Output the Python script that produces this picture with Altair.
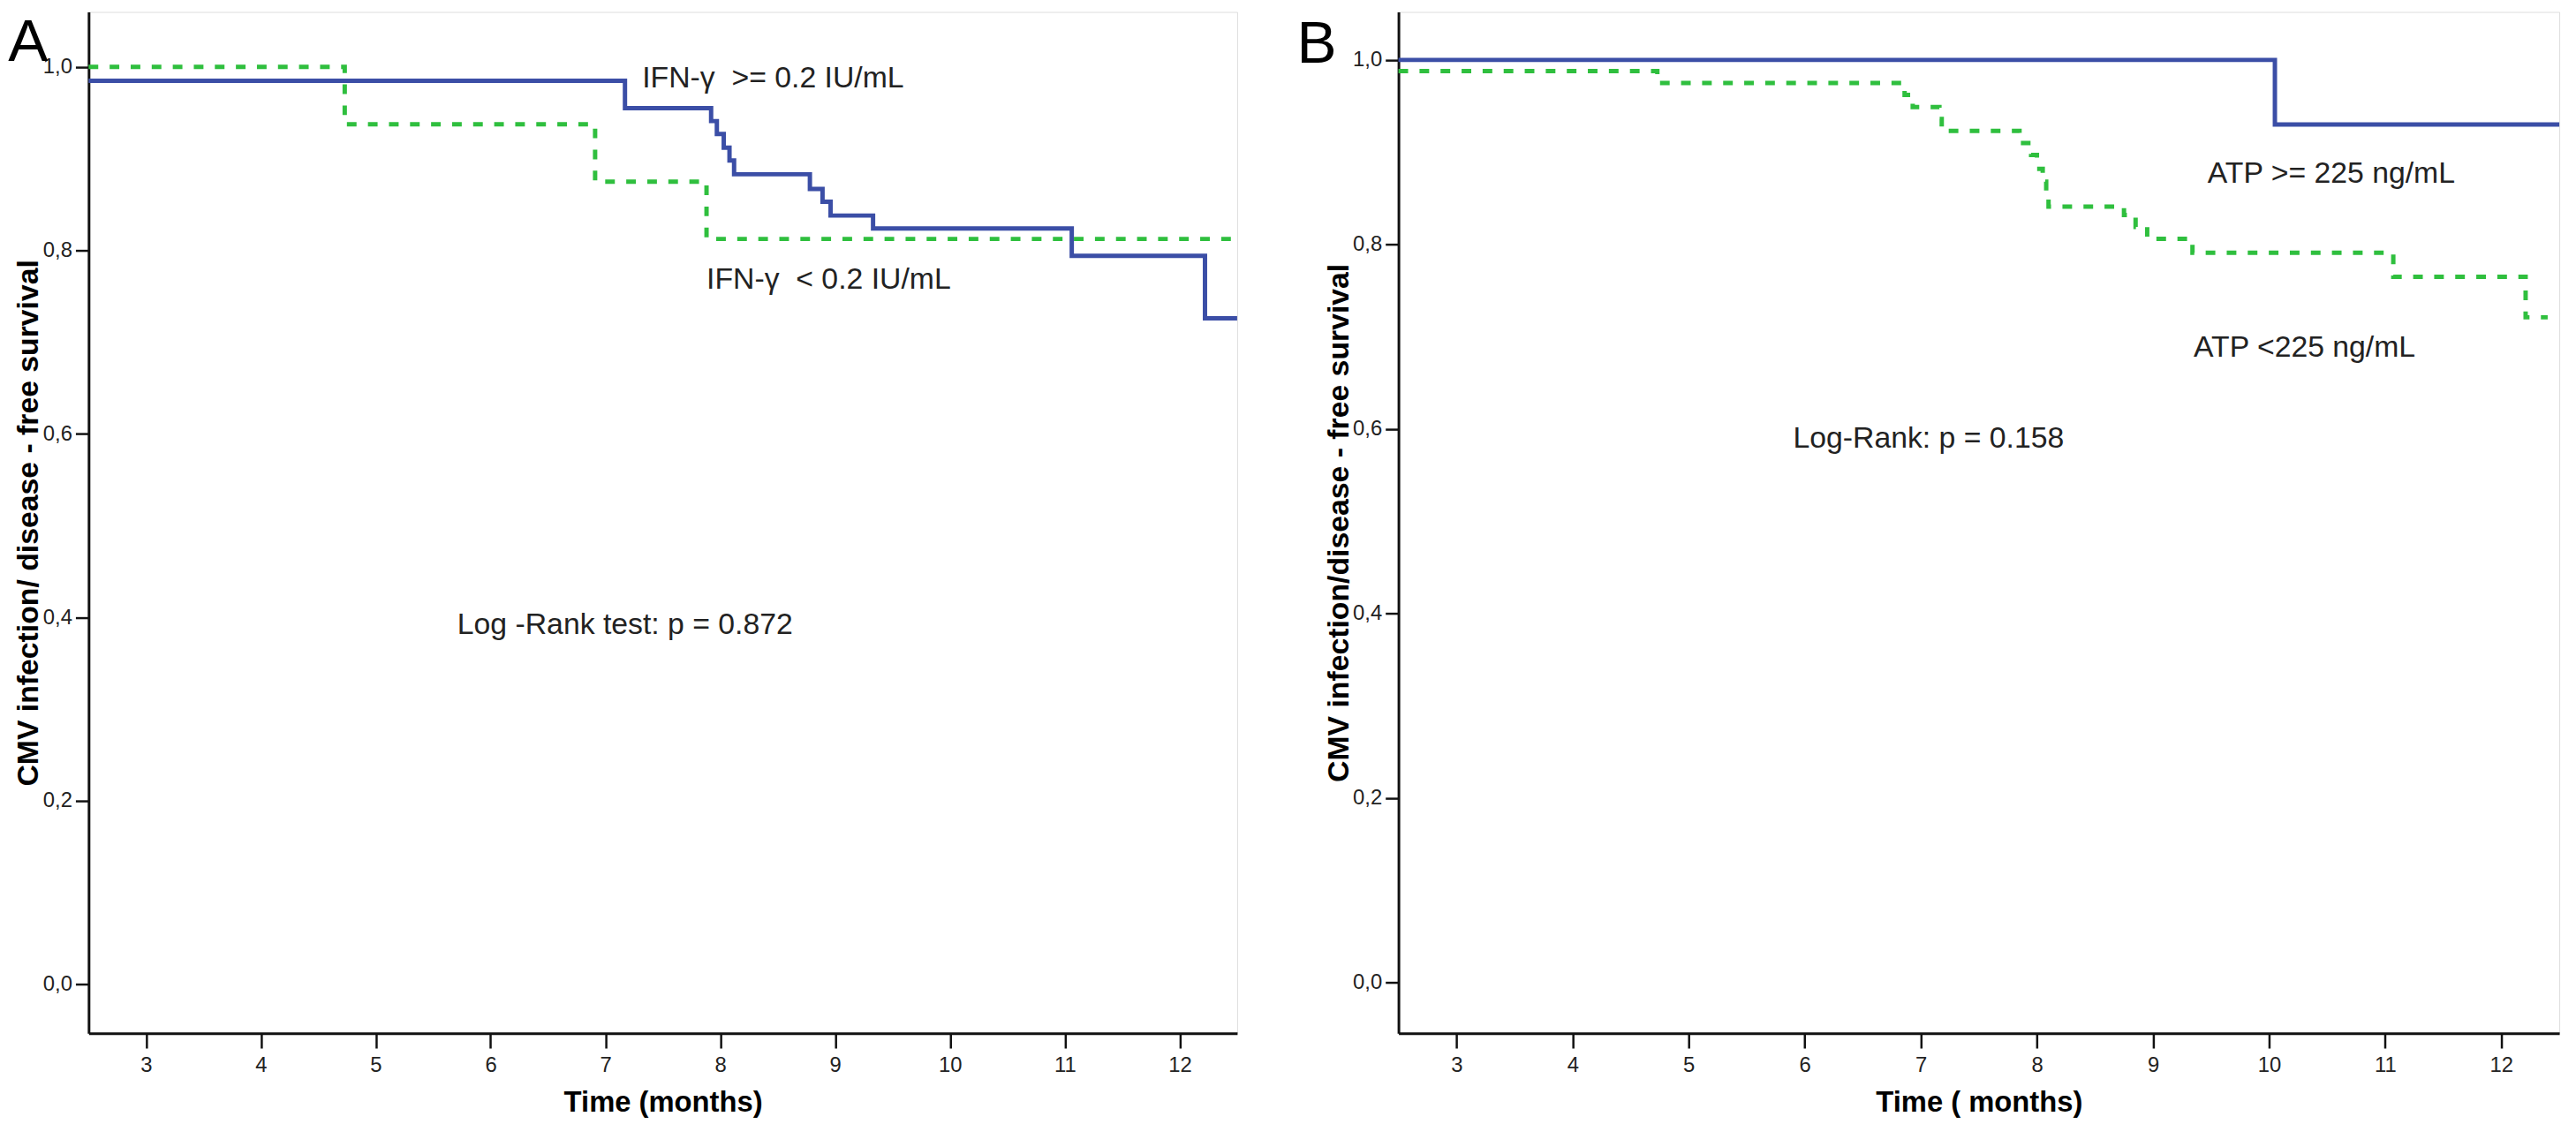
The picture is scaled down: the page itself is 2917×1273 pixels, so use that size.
import altair as alt
import pandas as pd

# ---------------- data ----------------
# Panel A : IFN-gamma
a_high_t = [2.5, 7.17, 7.92, 7.97, 8.03, 8.08, 8.12, 8.78, 8.89, 8.96, 9.33, 11.06, 12.22, 12.5]
a_high_s = [0.985, 0.955, 0.941, 0.927, 0.912, 0.898, 0.883, 0.867, 0.853, 0.838, 0.824, 0.794, 0.726, 0.726]
a_low_t = [2.5, 4.73, 6.91, 7.88, 12.5]
a_low_s = [1.0, 0.9375, 0.875, 0.8125, 0.8125]

# Panel B : ATP
b_high_t = [2.5, 10.05, 12.5]
b_high_s = [1.0, 0.930, 0.930]
b_low_t = [2.5, 4.73, 6.86, 6.93, 7.16, 7.18, 7.85, 7.95, 8.00, 8.05, 8.08, 8.10,
           8.75, 8.85, 8.95, 9.34, 11.07, 12.21, 12.40]
b_low_s = [0.988, 0.975, 0.962, 0.949, 0.936, 0.923, 0.910, 0.897, 0.882, 0.868, 0.854, 0.841,
           0.832, 0.819, 0.806, 0.791, 0.765, 0.721, 0.721]

x_ticks = [3, 4, 5, 6, 7, 8, 9, 10, 11, 12]
y_ticks = [0.0, 0.2, 0.4, 0.6, 0.8, 1.0]

# annotation texts and their anchor (month, survival)
a_ann_text = ["IFN-\u03b3\u00a0 >= 0.2 IU/mL", "IFN-\u03b3\u00a0 < 0.2 IU/mL", "Log -Rank test: p = 0.872"]
a_ann_t = [7.32, 7.88, 5.71]
a_ann_s = [0.978, 0.758, 0.382]

b_ann_text = ["ATP >= 225 ng/mL", "ATP <225 ng/mL", "Log-Rank: p = 0.158"]
b_ann_t = [9.47, 9.35, 5.90]
b_ann_s = [0.867, 0.678, 0.58]

# panel letters and their anchor (month, survival)
a_letter = ["A"]
a_letter_t = [1.80]
a_letter_s = [1.0067]
b_letter = ["B"]
b_letter_t = [1.624]
b_letter_s = [0.997]

# ---------------- styling ----------------
FONT = "Liberation Sans"
BLUE = "#3b4ea6"
GREEN = "#2fbf3e"
PLOT_H = 1165


def panel(hi_t, hi_s, lo_t, lo_s, ann_text, ann_t, ann_s, let, let_t, let_s,
          ydom, width, xtitle, ytitle):
    x_enc = alt.X(
        "t:Q",
        scale=alt.Scale(domain=[2.5, 12.5], nice=False, zero=False),
        axis=alt.Axis(
            values=x_ticks, grid=False, tickSize=17, tickWidth=2.5, tickColor="#111",
            labelFont=FONT, labelFontSize=24, labelColor="#222", labelPadding=8,
            domainColor="#111", domainWidth=3,
            title=xtitle, titleFont=FONT, titleFontSize=33, titleFontWeight="bold",
            titleColor="#000", titleY=89, titleBaseline="alphabetic",
        ),
    )
    y_enc = alt.Y(
        "s:Q",
        scale=alt.Scale(domain=ydom, nice=False, zero=False),
        axis=alt.Axis(
            values=y_ticks, grid=False, tickSize=15, tickWidth=2.5, tickColor="#111",
            labelExpr="replace(format(datum.value, '.1f'), '.', ',')",
            labelFont=FONT, labelFontSize=24, labelColor="#222", labelPadding=4,
            domainColor="#111", domainWidth=3,
            title=ytitle, titleFont=FONT, titleFontSize=34, titleFontWeight="bold",
            titleColor="#000", titleAngle=270, titleX=-58, titleY=PLOT_H / 2,
            titleBaseline="alphabetic", titleAlign="center",
        ),
    )
    hi = alt.Chart(pd.DataFrame({"t": hi_t, "s": hi_s})).mark_line(
        interpolate="step-after", color=BLUE, strokeWidth=5
    ).encode(x=x_enc, y=y_enc)
    lo = alt.Chart(pd.DataFrame({"t": lo_t, "s": lo_s})).mark_line(
        interpolate="step-after", color=GREEN, strokeWidth=5, strokeDash=[11, 13]
    ).encode(x=x_enc, y=y_enc)
    ann = alt.Chart(pd.DataFrame({"t": ann_t, "s": ann_s, "label": ann_text})).mark_text(
        align="left", baseline="alphabetic", font=FONT, fontSize=34, color="#222"
    ).encode(x=x_enc, y=y_enc, text="label:N")
    letter = alt.Chart(pd.DataFrame({"t": let_t, "s": let_s, "label": let})).mark_text(
        align="left", baseline="alphabetic", font=FONT, fontSize=68, color="#000"
    ).encode(x=x_enc, y=y_enc, text="label:N")
    return alt.layer(hi, lo, ann, letter).properties(width=width, height=PLOT_H)


panel_a = panel(a_high_t, a_high_s, a_low_t, a_low_s, a_ann_text, a_ann_t, a_ann_s,
                a_letter, a_letter_t, a_letter_s, [-0.0535, 1.060], 1310,
                "Time (months)", "CMV infection/ disease - free survival")
panel_b = panel(b_high_t, b_high_s, b_low_t, b_low_s, b_ann_text, b_ann_t, b_ann_s,
                b_letter, b_letter_t, b_letter_s, [-0.055, 1.052], 1324,
                "Time ( months)", "CMV infection/disease - free survival")

chart = (
    alt.hconcat(panel_a, panel_b, spacing=56)
    .properties(padding=0)
    .configure_view(stroke="#555", strokeWidth=2)
    .configure(background="white")
)

chart.save("out.html", embed_options={"renderer": "svg", "actions": False})
